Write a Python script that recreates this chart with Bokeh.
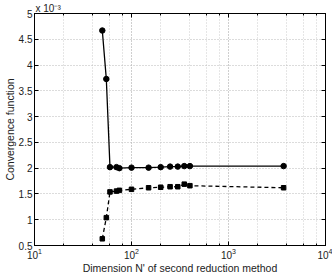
from bokeh.plotting import figure
from bokeh.models import (LogAxis, LinearAxis, FixedTicker, LogTicker,
                          CustomJSTickFormatter, Range1d)
from bokeh.embed import file_html
from bokeh.resources import INLINE

# Data (y values in units of 1e-3)
dims = [50, 55, 60, 70, 75, 100, 150, 200, 250, 300, 350, 400, 3700]
conv_solid = [4.67, 3.73, 2.02, 2.02, 2.00, 2.01, 2.01, 2.02, 2.03, 2.03, 2.04, 2.04, 2.04]
conv_dashed = [0.63, 1.04, 1.54, 1.555, 1.57, 1.59, 1.62, 1.63, 1.64, 1.64, 1.69, 1.66, 1.62]
y_ticks = [0.5, 1, 1.5, 2, 2.5, 3, 3.5, 4, 4.5, 5]
x_label = "Dimension N' of second reduction method"
y_label = "Convergence function"
exp_label = "x 10\u207b\u00b3"
FONT = "Liberation Sans"

p = figure(width=332, height=276, x_axis_type="log",
           x_range=Range1d(10, 10000), y_range=Range1d(0.5, 5),
           output_backend="svg", toolbar_location=None,
           min_border_left=31, min_border_right=7, min_border_top=0,
           min_border_bottom=29)
p.background_fill_color = "white"
p.border_fill_color = "white"
p.outline_line_color = "black"
p.outline_line_width = 1

p.title.text = exp_label
p.title.align = "left"
p.title.text_font = FONT
p.title.text_font_size = "10px"
p.title.text_font_style = "normal"
p.title.text_color = "#222222"
p.title.standoff = 0
p.title.offset = 1

# Grid
p.xgrid.grid_line_color = "#b8b8b8"
p.xgrid.grid_line_dash = "1 2"
p.xgrid.minor_grid_line_color = "#cccccc"
p.xgrid.minor_grid_line_dash = "1 2"
p.ygrid.grid_line_color = "#b8b8b8"
p.ygrid.grid_line_dash = "1 2"
p.ygrid.ticker = FixedTicker(ticks=y_ticks)

fmt = CustomJSTickFormatter(code="return String(Math.round(tick*10)/10);")

xa = p.xaxis[0]
xa.ticker = LogTicker()
xa.axis_label = x_label
xa.axis_label_text_font = FONT
xa.axis_label_text_font_size = "10.5px"
xa.axis_label_text_font_style = "normal"
xa.axis_label_standoff = 0
xa.major_label_text_font = FONT
xa.major_label_text_font_size = "10px"
xa.major_label_standoff = 2

ya = p.yaxis[0]
ya.ticker = FixedTicker(ticks=y_ticks)
ya.formatter = fmt
ya.axis_label = y_label
ya.axis_label_text_font = FONT
ya.axis_label_text_font_size = "10.5px"
ya.axis_label_text_font_style = "normal"
ya.axis_label_standoff = 0
ya.major_label_text_font = FONT
ya.major_label_text_font_size = "10px"
ya.major_label_standoff = 2

for ax in (xa, ya):
    ax.axis_line_color = "black"
    ax.major_tick_line_color = "black"
    ax.minor_tick_line_color = "black"
    ax.major_tick_in = 4
    ax.major_tick_out = 0
    ax.minor_tick_in = 2
    ax.minor_tick_out = 0
    ax.major_label_text_color = "#222222"
    ax.axis_label_text_color = "#222222"
ya.minor_tick_line_color = None

top = LogAxis(ticker=LogTicker(), major_label_text_font_size="0px",
              major_tick_in=4, major_tick_out=0, minor_tick_in=2, minor_tick_out=0,
              axis_line_color="black", major_label_standoff=0)
right = LinearAxis(ticker=FixedTicker(ticks=y_ticks), major_label_text_font_size="0px",
                   major_tick_in=4, major_tick_out=0, minor_tick_line_color=None,
                   axis_line_color="black", major_label_standoff=0)
p.add_layout(top, "above")
p.add_layout(right, "right")
top.major_label_text_alpha = 0
right.major_label_text_alpha = 0

# Series
p.line(dims, conv_solid, line_color="black", line_width=1.3)
p.scatter(dims, conv_solid, marker="circle", size=5.5, fill_color="black", line_color="black")
p.line(dims, conv_dashed, line_color="black", line_width=1.3, line_dash="4 3")
p.scatter(dims, conv_dashed, marker="square", size=4.5, fill_color="black", line_color="black")

open("out.html", "w").write(file_html(p, INLINE))
